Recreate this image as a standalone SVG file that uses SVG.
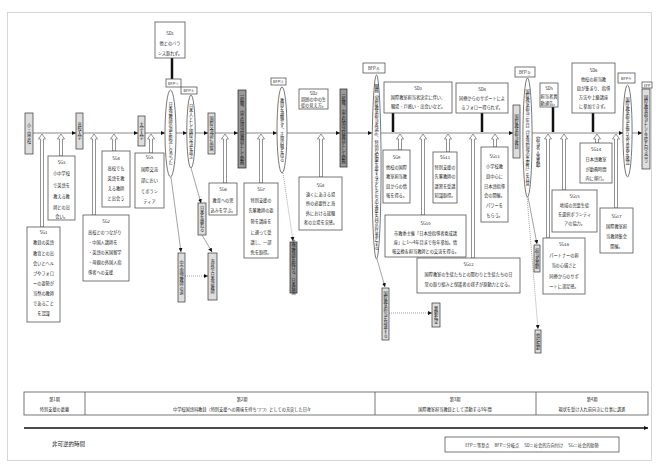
<svg xmlns="http://www.w3.org/2000/svg" width="659" height="468" viewBox="0 0 659 468">
<defs>
<style>
.bx{fill:#fff;stroke:#555;stroke-width:.8}
.vb{fill:#ddd;stroke:#333;stroke-width:.7}
.vd{fill:#999;stroke:#222;stroke-width:.7}
.el{fill:#fff;stroke:#555;stroke-width:.8}
.t{font-family:"Noto Sans CJK JP","Noto Sans CJK SC",sans-serif;font-size:4.2px;fill:#222;text-anchor:middle}
.l{text-anchor:start}
.v{writing-mode:vertical-rl}
.ln{stroke:#888;stroke-width:1;fill:none}
.sd{stroke:#111;stroke-width:2.5}
.ha{fill:#fff;stroke:#666;stroke-width:.7}
.th{stroke:#666;stroke-width:.6;fill:none}
.dt{stroke:#666;stroke-width:.6;stroke-dasharray:1 1;fill:none}
.big{font-size:5.5px}
</style>
<marker id="ah" viewBox="0 0 6 6" refX="6" refY="3" markerWidth="4" markerHeight="4" markerUnits="userSpaceOnUse" orient="auto"><path d="M0,0L6,3L0,6z" fill="#111"/></marker>
</defs>
<rect x="7.5" y="12.5" width="644" height="448" fill="#fff" stroke="#ccc" stroke-width=".8"/>

<g id="connectors">
<g marker-end="url(#ah)" class="ln">
<line x1="33" y1="133" x2="76" y2="133"/>
<line x1="83" y1="133" x2="138" y2="133"/>
<line x1="145" y1="133" x2="165" y2="133"/>
<line x1="176" y1="133" x2="187" y2="133"/>
<line x1="195" y1="133" x2="208" y2="133"/>
<line x1="215" y1="133" x2="238" y2="133"/>
<line x1="246" y1="133" x2="277" y2="133"/>
<line x1="287" y1="133" x2="340" y2="133"/>
<line x1="347" y1="133" x2="372" y2="133"/>
<line x1="381" y1="133" x2="513" y2="133"/>
<line x1="532" y1="133" x2="623" y2="133"/>
<line x1="632" y1="133" x2="642" y2="133"/>
</g>
<line class="sd" x1="172" y1="58" x2="172" y2="79"/>
<line class="sd" x1="393" y1="113" x2="393" y2="132"/>
<line class="sd" x1="482" y1="113" x2="482" y2="132"/>
<line class="sd" x1="553" y1="107" x2="553" y2="132"/>
<line class="sd" x1="593" y1="113" x2="593" y2="132"/>
<polygon class="ha" points="40.5,227 40.5,139 38.5,139 42,134 45.5,139 43.5,139 43.5,227"/>
<polygon class="ha" points="59.5,156 59.5,139 57.5,139 61,134 64.5,139 62.5,139 62.5,156"/>
<polygon class="ha" points="92.5,215 92.5,139 90.5,139 94,134 97.5,139 95.5,139 95.5,215"/>
<polygon class="ha" points="112.5,151 112.5,139 110.5,139 114,134 117.5,139 115.5,139 115.5,151"/>
<polygon class="ha" points="149.5,153 149.5,139 147.5,139 151,134 154.5,139 152.5,139 152.5,153"/>
<polygon class="ha" points="223.5,183 223.5,139 221.5,139 225,134 228.5,139 226.5,139 226.5,183"/>
<polygon class="ha" points="259.5,183 259.5,139 257.5,139 261,134 264.5,139 262.5,139 262.5,183"/>
<polygon class="ha" points="319.5,177 319.5,139 317.5,139 321,134 324.5,139 322.5,139 322.5,177"/>
<polygon class="ha" points="398.5,150 398.5,139 396.5,139 400,134 403.5,139 401.5,139 401.5,150"/>
<polygon class="ha" points="421.5,215 421.5,139 419.5,139 423,134 426.5,139 424.5,139 424.5,215"/>
<polygon class="ha" points="446.5,152 446.5,139 444.5,139 448,134 451.5,139 449.5,139 449.5,152"/>
<polygon class="ha" points="471.5,258 471.5,139 469.5,139 473,134 476.5,139 474.5,139 474.5,258"/>
<polygon class="ha" points="493.5,147 493.5,139 491.5,139 495,134 498.5,139 496.5,139 496.5,147"/>
<polygon class="ha" points="546.5,238 546.5,139 544.5,139 548,134 551.5,139 549.5,139 549.5,238"/>
<polygon class="ha" points="562.5,190 562.5,139 560.5,139 564,134 567.5,139 565.5,139 565.5,190"/>
<polygon class="ha" points="595.5,143 595.5,139 593.5,139 597,134 600.5,139 598.5,139 598.5,143"/>
<polygon class="ha" points="614.5,208 614.5,139 612.5,139 616,134 619.5,139 617.5,139 617.5,208"/>
<g marker-end="url(#ah)">
<line class="th" x1="171" y1="177" x2="181" y2="252"/>
<line class="th" x1="191" y1="168" x2="201" y2="203"/>
<line class="th" x1="202" y1="235" x2="212" y2="252"/>
<line class="dt" x1="185" y1="276" x2="208" y2="276"/>
<line class="dt" x1="283" y1="173" x2="293" y2="241"/>
<line class="th" x1="377" y1="259" x2="385" y2="287"/>
<line class="dt" x1="389" y1="313" x2="432" y2="313"/>
<line class="th" x1="528" y1="197" x2="537" y2="244"/>
<line class="dt" x1="527" y1="197" x2="538" y2="329"/>
</g>
<line x1="24" y1="428" x2="648" y2="428" stroke="#111" stroke-width="1.5" marker-end="url(#ah)"/>
</g>

<g id="v1"><rect class="vb" x="25" y="113" width="8" height="41"/><text class="t v" x="29" y="133.5">小・中学校</text></g>
<g id="v2"><rect class="vb" x="76" y="113" width="7" height="36"/><text class="t v" x="79.5" y="131">高校入学</text></g>
<g id="v3"><rect class="vb" x="138" y="116" width="7" height="30"/><text class="t v" x="141.5" y="131">大学入学</text></g>
<g id="v4"><rect class="vb" x="208" y="113" width="7" height="41"/><text class="t v" x="211.5" y="133.5">国際交流部に所属</text></g>
<g id="v5"><rect class="vd" x="238" y="90" width="8" height="78"/><text class="t v" x="242" y="129">一般職、中学校国語科教員として勤務</text></g>
<g id="v6"><rect class="vd" x="340" y="89" width="7" height="78"/><text class="t v" x="343.5" y="128">一般職、中学校国語科教員として勤務</text></g>
<g id="v7"><rect class="vb" x="513" y="105" width="7" height="53"/><text class="t v" x="516.5" y="131.5">国際教室担当教員</text></g>
<g id="efp"><rect class="bx" x="642" y="82" width="10" height="6"/><text class="t" x="647" y="86.5" style="font-size:3.5px">EFP</text><rect class="vb" x="642" y="89" width="8" height="80"/><text class="t v" x="646" y="129">国際教室担当として生徒と向き合う</text></g>

<g id="bfp1"><rect class="bx" x="166" y="79" width="15" height="8"/><text class="t" x="173.5" y="84.5" style="font-size:3.8px">BFP①</text></g>
<g id="e1"><ellipse class="el" cx="170.5" cy="133.5" rx="5.5" ry="43.5"/><text class="t v" x="170.5" y="133.5">日本語教師の道を断念しなかった</text></g>
<g id="bfp2"><rect class="bx" x="181" y="87" width="16" height="7"/><text class="t" x="189" y="92" style="font-size:3.8px">BFP②</text></g>
<g id="e2"><ellipse class="el" cx="191" cy="131.5" rx="4.2" ry="36.5"/><text class="t v" x="191" y="131.5">日本人として国際交流を選ぶ</text></g>
<g id="bfp3"><rect class="bx" x="271" y="78" width="15" height="7"/><text class="t" x="278.5" y="83" style="font-size:3.8px">BFP③</text></g>
<g id="e3"><ellipse class="el" cx="282" cy="130" rx="5" ry="43"/><text class="t v" x="282" y="130">教員を退職せず、正規の職を得る</text></g>
<g id="bfp4"><rect class="bx" x="363" y="63" width="22" height="10"/><text class="t" x="374" y="69.5">BFP④</text></g>
<g id="e4"><ellipse class="el" cx="376.5" cy="167" rx="4.6" ry="92"/><text class="t v" x="376.5" y="167">職務「国際教室担当者決定」、特別な配慮を要する子どもたちの支援を自分の仕事とする</text></g>
<g id="bfp5"><rect class="bx" x="515" y="67" width="20" height="10"/><text class="t" x="525" y="73.5">BFP⑤</text></g>
<g id="e5"><ellipse class="el" cx="527.5" cy="137.5" rx="4.6" ry="59.5"/><text class="t v" x="527.5" y="137.5">国際教室担当三年目「日本語指導の重要性」を自覚</text></g>
<g id="bfp6"><rect class="bx" x="618" y="73" width="17" height="10"/><text class="t" x="626.5" y="79.5" style="font-size:3.8px">BFP⑥</text></g>
<g id="e6"><ellipse class="el" cx="627.5" cy="131" rx="4.6" ry="46"/><text class="t v" x="627.5" y="131">国際教室担当を振り返り意義を確認</text></g>
<g id="note"><text class="t v" x="538" y="152">（担当者人事異動）</text></g>

<g id="sd1"><rect class="bx" x="155" y="22" width="30" height="36"/><text class="t" x="170" y="35">SD1</text><text class="t" x="170" y="45">他とのバラ</text><text class="t" x="170" y="55">ンス取れず。</text></g>
<g id="sd2"><rect class="bx" x="299" y="89" width="29" height="20"/><text class="t" x="313.5" y="94.5">SD2</text><text class="t" x="313.5" y="100.5">周囲の中の生</text><text class="t" x="313.5" y="106.5">徒の見え方。</text></g>
<g id="sd3"><rect class="bx" x="384" y="82" width="68" height="31"/><text class="t" x="418" y="90">SD3</text><text class="t" x="418" y="99">国際教室担当者決定に伴い、</text><text class="t" x="418" y="108">職場・戸惑い・出会いなど。</text></g>
<g id="sd4"><rect class="bx" x="456" y="83" width="52" height="30"/><text class="t" x="482" y="91">SD4</text><text class="t" x="482" y="100">同僚からのサポートによ</text><text class="t" x="482" y="109">るフォロー得られず。</text></g>
<g id="sd5"><rect class="bx" x="540" y="83" width="18" height="24"/><text class="t" x="549" y="90">SD5</text><text class="t" x="549" y="97.5">担当者異</text><text class="t" x="549" y="104.5">動通告。</text></g>
<g id="sd6"><rect class="bx" x="572" y="63" width="43" height="50"/><text class="t" x="593.5" y="72">SD6</text><text class="t" x="593.5" y="81">他校の担当教</text><text class="t" x="593.5" y="90">員が集まり、指導</text><text class="t" x="593.5" y="99">方法や上級講座</text><text class="t" x="593.5" y="108">に参加できず。</text></g>

<g id="sg1"><rect class="bx" x="27" y="227" width="33" height="95"/><text class="t" x="43.5" y="234">SG1</text><text class="t" x="43.5" y="244">教員の英語</text><text class="t" x="43.5" y="255">教育との出</text><text class="t" x="43.5" y="265">会いとヘル</text><text class="t" x="43.5" y="275">プやフォロ</text><text class="t" x="43.5" y="285">ーの姿勢が</text><text class="t" x="43.5" y="295">当然の教師</text><text class="t" x="43.5" y="305">であること</text><text class="t" x="43.5" y="315">を認識</text></g>
<g id="sg3"><rect class="bx" x="48" y="156" width="27" height="64"/><text class="t" x="61.5" y="164">SG3</text><text class="t" x="61.5" y="175">小中学校</text><text class="t" x="61.5" y="187">で英語を</text><text class="t" x="61.5" y="198">教える教</text><text class="t" x="61.5" y="209">師との出</text><text class="t" x="61.5" y="218">会い。</text></g>
<g id="sg4"><rect class="bx" x="102" y="151" width="28" height="56"/><text class="t" x="116" y="160">SG4</text><text class="t" x="116" y="170">高校でも</text><text class="t" x="116" y="180">英語を教</text><text class="t" x="116" y="190">える教師</text><text class="t" x="116" y="200">と出会う</text></g>
<g id="sg2"><rect class="bx" x="83" y="215" width="46" height="66"/><text class="t" x="106" y="223">SG2</text><text class="t l" x="88" y="234">高校とのつながり</text><text class="t l" x="88" y="244">・中国人講師を</text><text class="t l" x="88" y="254">・英語の米国留学</text><text class="t l" x="88" y="264">・母親の外国人指</text><text class="t l" x="88" y="274">導者への支援</text></g>
<g id="sg5"><rect class="bx" x="135" y="153" width="29" height="55"/><text class="t" x="149.5" y="159">SG5</text><text class="t" x="149.5" y="171">国際交流</text><text class="t" x="149.5" y="182">部におい</text><text class="t" x="149.5" y="193">てボラン</text><text class="t" x="149.5" y="203">ティア</text></g>
<g id="sg6"><rect class="bx" x="209" y="183" width="28" height="32"/><text class="t" x="223" y="191">SG6</text><text class="t" x="223" y="202">教育への思</text><text class="t" x="223" y="212">込みを学ぶ。</text></g>
<g id="sg7"><rect class="bx" x="244" y="183" width="34" height="75"/><text class="t" x="261" y="191">SG7</text><text class="t" x="261" y="202">特別支援の</text><text class="t" x="261" y="212">先輩教師の姿</text><text class="t" x="261" y="223">勢を講座を</text><text class="t" x="261" y="234">に通って受</text><text class="t" x="261" y="244">講し、一部</text><text class="t" x="261" y="254">免を取得。</text></g>
<g id="sg8"><rect class="bx" x="299" y="177" width="43" height="53"/><text class="t" x="320.5" y="187">SG8</text><text class="t" x="320.5" y="196">遠くにあきる場</text><text class="t" x="320.5" y="205">所の必要性と海</text><text class="t" x="320.5" y="215">外における就職</text><text class="t" x="320.5" y="224">者の立場を実感。</text></g>
<g id="sg9"><rect class="bx" x="383" y="150" width="27" height="53"/><text class="t" x="396.5" y="159">SG9</text><text class="t" x="396.5" y="169">他校の国際</text><text class="t" x="396.5" y="178">教室担当教</text><text class="t" x="396.5" y="188">員からの情</text><text class="t" x="396.5" y="197">報を得る。</text></g>
<g id="sg11"><rect class="bx" x="433" y="152" width="24" height="51"/><text class="t" x="445" y="159">SG11</text><text class="t" x="445" y="169">特別支援の</text><text class="t" x="445" y="178">先輩教師の</text><text class="t" x="445" y="188">講習を受講</text><text class="t" x="445" y="197">知識取得。</text></g>
<g id="sg10"><rect class="bx" x="385" y="215" width="81" height="42"/><text class="t" x="425.5" y="225">SG10</text><text class="t" x="425.5" y="235">市教委主催「日本語指導者養成講</text><text class="t" x="425.5" y="244">座」に1〜4年目まで毎年参加。情</text><text class="t" x="425.5" y="253">報交換＆担当教師との交流を得る。</text></g>
<g id="sg12"><rect class="bx" x="417" y="258" width="103" height="35"/><text class="t" x="468.5" y="266">SG12</text><text class="t" x="468.5" y="276">国際教室の生徒たちとの関わりと生徒たちの日</text><text class="t" x="468.5" y="286">常の取り組みと保護者の様子が原動力となる。</text></g>
<g id="sg13"><rect class="bx" x="481" y="147" width="27" height="75"/><text class="t" x="494.5" y="158">SG13</text><text class="t" x="494.5" y="168">小学校教</text><text class="t" x="494.5" y="178">員中心に</text><text class="t" x="494.5" y="188">日本語指導</text><text class="t" x="494.5" y="197">会の開催。</text><text class="t" x="494.5" y="207">パワーを</text><text class="t" x="494.5" y="217">もらう。</text></g>
<g id="sg14"><rect class="bx" x="580" y="143" width="32" height="40"/><text class="t" x="596" y="151">SG14</text><text class="t" x="596" y="161">日本語教室</text><text class="t" x="596" y="171">が勤務時間</text><text class="t" x="596" y="180">内に移行。</text></g>
<g id="sg15"><rect class="bx" x="552" y="190" width="45" height="42"/><text class="t" x="574.5" y="198">SG15</text><text class="t" x="574.5" y="207">地域の児童生徒</text><text class="t" x="574.5" y="216">を選択ボランティ</text><text class="t" x="574.5" y="225">アの協力。</text></g>
<g id="sg16"><rect class="bx" x="543" y="238" width="42" height="56"/><text class="t" x="564" y="246">SG16</text><text class="t" x="564" y="257">パートナーの担</text><text class="t" x="564" y="267">当の心強さと</text><text class="t" x="564" y="278">同僚からのサポ</text><text class="t" x="564" y="288">ートに満足感。</text></g>
<g id="sg17"><rect class="bx" x="600" y="208" width="33" height="45"/><text class="t" x="616.5" y="218">SG17</text><text class="t" x="616.5" y="228">国際教室担</text><text class="t" x="616.5" y="238">当教師集会</text><text class="t" x="616.5" y="248">開催。</text></g>

<g id="b1"><rect class="vb" x="178" y="253" width="7" height="49"/><text class="t v" x="181.5" y="277.5">中学国語教師の道</text></g>
<g id="b2"><rect class="vb" x="198" y="203" width="8" height="32"/><text class="t v" x="202" y="219">日本を離れる</text></g>
<g id="b3"><rect class="vb" x="208" y="253" width="9" height="47"/><text class="t v" x="212.5" y="276.5">海外で日本語教師</text></g>
<g id="b4"><rect class="vd" x="290" y="242" width="7" height="51"/><text class="t v" x="293.5" y="267.5">英語教師を続ける、日本帰国</text></g>
<g id="b5"><rect class="vb" x="382" y="288" width="7" height="52"/><text class="t v" x="385.5" y="314">国際教室担当を辞退する</text></g>
<g id="b6"><rect class="vb" x="432" y="303" width="8" height="24"/><text class="t v" x="436" y="315">異動希望</text></g>
<g id="b7"><rect class="vb" x="534" y="245" width="6" height="27"/><text class="t v" x="537" y="258.5">担当者異動</text></g>
<g id="b8"><rect class="vb" x="535" y="330" width="6" height="23"/><text class="t v" x="538" y="341.5">他校転勤</text></g>

<g id="table">
<rect x="24" y="392" width="624" height="23" fill="#fff" stroke="#555" stroke-width=".8"/>
<line x1="85" y1="392" x2="85" y2="415" stroke="#555" stroke-width=".8"/>
<line x1="375" y1="392" x2="375" y2="415" stroke="#555" stroke-width=".8"/>
<line x1="536" y1="392" x2="536" y2="415" stroke="#555" stroke-width=".8"/>
<text class="t" x="54.5" y="401">第1期</text><text class="t" x="54.5" y="411">特別支援の葛藤</text>
<text class="t" x="242" y="401">第2期</text><text class="t" x="242" y="411">中学校国語科教員（特別支援への興味を持ちつつ）としての充実した日々</text>
<text class="t" x="455" y="401">第3期</text><text class="t" x="455" y="411">国際教室担当教員として活動する9年間</text>
<text class="t" x="592" y="401">第4期</text><text class="t" x="592" y="411">現状を受け入れ前向きに仕事に邁進</text>
</g>
<g id="time"><text class="t l big" x="52" y="446">非可逆的時間</text></g>
<g id="legend"><rect x="445" y="437" width="174" height="15" fill="#fff" stroke="#555" stroke-width=".8"/><text class="t" x="532" y="446.5">EFP＝等至点　 BFP＝分岐点　 SD＝社会的方向付け　 SG＝社会的助勢</text></g>
</svg>
